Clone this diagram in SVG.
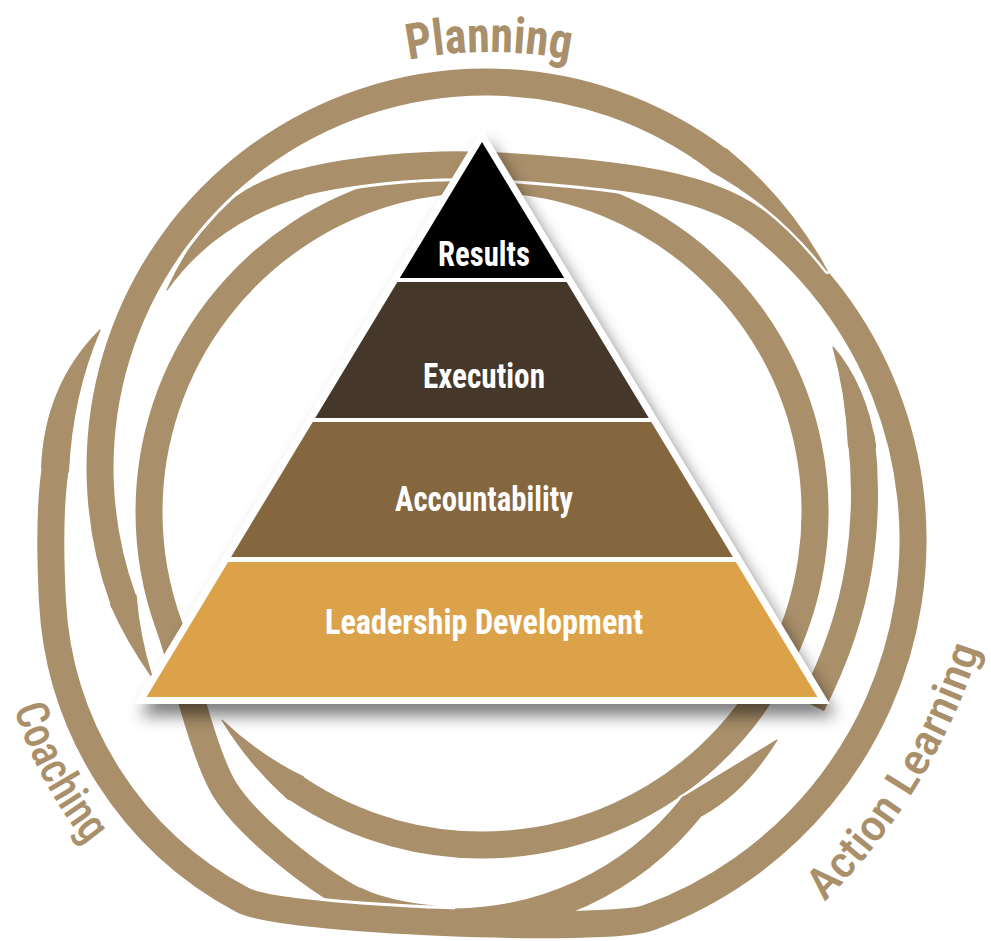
<svg xmlns="http://www.w3.org/2000/svg" xmlns:xlink="http://www.w3.org/1999/xlink" width="991" height="941" viewBox="0 0 991 941">
<style>
.halo{fill:none;stroke:#ffffff;stroke-width:33}
.band{fill:none;stroke:#A98F6A;stroke-width:27}
.tiph{fill:#ffffff;stroke:#ffffff;stroke-width:6;stroke-linejoin:round}
.tip{fill:#A98F6A;stroke:#A98F6A;stroke-width:1.2;stroke-linejoin:round}
.lbl{font-family:'Liberation Sans Narrow','Roboto Condensed','Liberation Sans',Arial,sans-serif;font-weight:700;font-size:35px;fill:#ffffff;text-anchor:middle}
.rl{font-family:'Liberation Sans Narrow','Roboto Condensed','Liberation Sans',Arial,sans-serif;fill:#A98F6A}
</style>
<defs>
<filter id="blur" x="-15%" y="-15%" width="130%" height="135%"><feGaussianBlur stdDeviation="8"/></filter>
<path id="pE" d="M 292.5 785.9 L 295.8 788.1 A 333 333 0 0 0 770.4 345.5 A 333 333 0 0 0 149 512 A 333 333 0 0 0 169.1 625.9 C 182.8 663.5 203.6 756.2 225 790 C 249 828 314.4 878.9 354 900 L 357.5 901.9"/>
<path id="tE1" d="M 288.2 799.3 A 346.5 346.5 0 0 1 222.1 720.2 A 319.5 319.5 0 0 0 303.3 776.9 Z"/>
<path id="tE2" d="M 360.3 888.1 C 386.7 902.2 430 906 451 908 Q 400 916 347.7 911.9 Z"/>
<path id="pF" d="M 861.1 436 L 861.5 440 C 866 480 866 520 859 565 C 852 610 835 660 812 705"/>
<path id="tF" d="M 848.6 447 Q 846 392 833 347 Q 866 385 875.7 447 Z"/>
<path id="pO" d="M 296.1 184.1 L 300 183 C 340 172 400 166 440 165 C 490 163 590 172 640 180 C 680 186.4 727 198.6 758.5 223.2 A 402 402 0 0 1 648.5 917.8 C 606.2 933.2 282.2 921.1 242.5 900 A 359 359 0 0 1 52.5 601.8 C 49.9 551.8 50 505 55 470 L 55.6 466"/>
<path id="tO1" d="M 296.4 170 Q 252 181 220 210 Q 190 240 167 290 Q 215 222 303.6 196 Z"/>
<path id="tO2" d="M 41.6 468.1 Q 45 385 100 330 Q 72 395 68.4 471.9 Z"/>
<path id="pB" d="M 455 922 C 540 921 629.2 885.1 691.6 807 L 694.1 803.9"/>
<path id="tB" d="M 702.1 815.4 Q 745 792 777 740 Q 725 772 681.1 798.6 Z"/>
<path id="pA" d="M 124.7 603.8 L 123.3 600 A 386 386 0 0 1 718.3 159.7 L 721.5 162.1"/>
<path id="tA1" d="M 110.6 604.6 A 399.5 399.5 0 0 0 151.9 676.8 A 372.5 372.5 0 0 1 136 595.4 Z"/>
<path id="tA2" d="M 726.4 149 A 399.5 399.5 0 0 1 827.2 271 A 372.5 372.5 0 0 0 710.2 170.5 Z"/>
<path id="tpP" d="M 98.1 325.7 A 416 416 0 0 1 879.9 325.7"/>
<path id="tpC" d="M -3.9 619.3 A 416.5 416.5 0 0 0 151.7 909"/>
<path id="tpAL" d="M 772 947.8 A 614 614 0 0 0 996.7 581.2"/>
</defs>
<rect width="991" height="941" fill="#ffffff"/>
<g id="connectors">
<g id="ring-inner">
<use href="#pE" class="halo"/><use href="#tE1" class="tiph"/><use href="#tE2" class="tiph"/>
<use href="#pE" class="band"/><use href="#tE1" class="tip"/><use href="#tE2" class="tip"/>
</g>
<g id="ring-inner-right">
<use href="#pF" class="halo"/><use href="#tF" class="tiph"/>
<use href="#pF" class="band"/><use href="#tF" class="tip"/>
</g>
<g id="ring-outer">
<use href="#pO" class="halo"/><use href="#tO1" class="tiph"/><use href="#tO2" class="tiph"/>
<use href="#pO" class="band"/><use href="#tO1" class="tip"/><use href="#tO2" class="tip"/>
</g>
<g id="ring-inner-bottom">
<use href="#tB" class="tiph"/>
<use href="#pB" class="band"/><use href="#tB" class="tip"/>
</g>
<g id="ring-planning">
<use href="#pA" class="halo"/><use href="#tA1" class="tiph"/><use href="#tA2" class="tiph"/>
<use href="#pA" class="band"/><use href="#tA1" class="tip"/><use href="#tA2" class="tip"/>
</g>
</g>
<g id="label-planning"><text class="rl" font-size="50" font-weight="700"><textPath href="#tpP" startOffset="50%" text-anchor="middle" textLength="162" lengthAdjust="spacingAndGlyphs">Planning</textPath></text></g>
<g id="label-coaching"><text class="rl" font-size="46" font-weight="500"><textPath href="#tpC" startOffset="50%" text-anchor="middle" textLength="156" lengthAdjust="spacingAndGlyphs">Coaching</textPath></text></g>
<g id="label-action-learning"><text class="rl" font-size="44" font-weight="500"><textPath href="#tpAL" startOffset="50%" text-anchor="middle" textLength="300" lengthAdjust="spacingAndGlyphs">Action Learning</textPath></text></g>
<g id="pyramid">
<polygon points="482,128.5 829.9,704 134.1,704" fill="#000" opacity="0.5" filter="url(#blur)" transform="translate(6,12)"/>
<polygon points="482,128.5 829.9,704 134.1,704" fill="#ffffff"/>
<g id="layer-results"><polygon points="482,142 564.2,278 399.8,278" fill="#000000"/><text class="lbl" x="484" y="266" textLength="92" lengthAdjust="spacingAndGlyphs">Results</text></g>
<g id="layer-execution"><polygon points="397.4,282 566.6,282 648.8,418 315.2,418" fill="#45382A"/><text class="lbl" x="484" y="388" textLength="122" lengthAdjust="spacingAndGlyphs">Execution</text></g>
<g id="layer-accountability"><polygon points="312.7,422 651.3,422 732.9,557 231.1,557" fill="#84663F"/><text class="lbl" x="484" y="511" textLength="178" lengthAdjust="spacingAndGlyphs">Accountability</text></g>
<g id="layer-leadership"><polygon points="228.1,562 735.9,562 817.5,697 146.5,697" fill="#DCA24A"/><text class="lbl" x="484" y="634" textLength="318" lengthAdjust="spacingAndGlyphs">Leadership Development</text></g>
</g>
</svg>
